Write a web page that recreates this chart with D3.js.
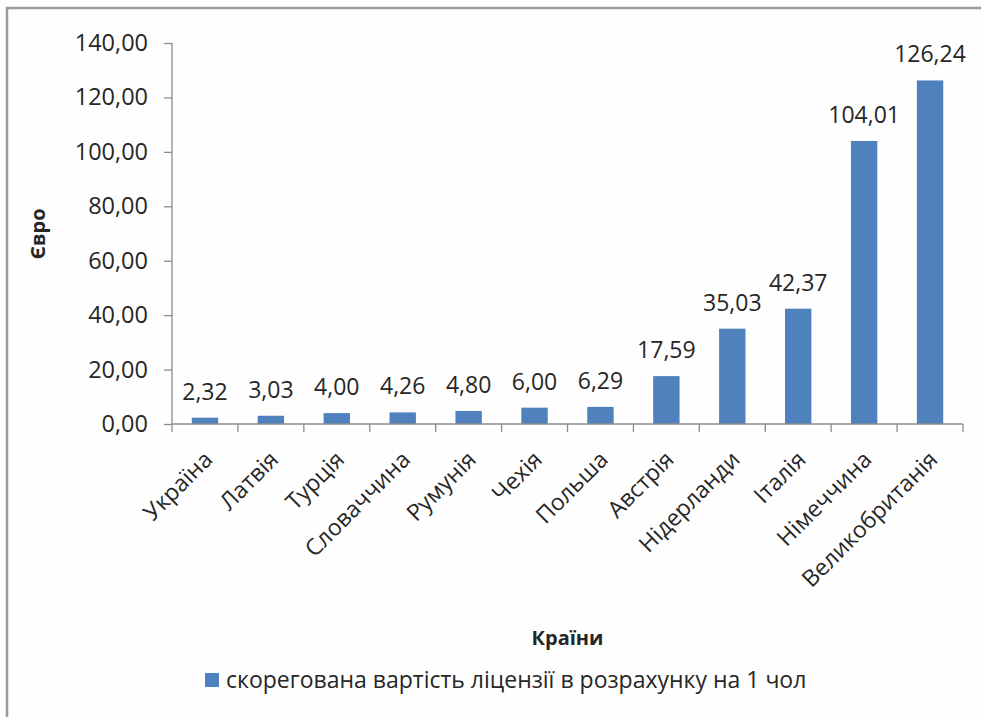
<!DOCTYPE html>
<html><head><meta charset="utf-8">
<script src="https://cdn.jsdelivr.net/npm/d3@7"></script>
<style>
html,body{margin:0;padding:0;background:#fff;}
svg text{font-family:"Open Sans","Noto Sans",sans-serif;fill:#262626;}
</style></head>
<body>
<svg id="c" width="981" height="717"></svg>
<script>
const categories = ["Україна","Латвія","Турція","Словаччина","Румунія","Чехія","Польша","Австрія","Нідерланди","Італія","Німеччина","Великобританія"];
const values = [2.32,3.03,4.00,4.26,4.80,6.00,6.29,17.59,35.03,42.37,104.01,126.24];
const yTicks = [0,20,40,60,80,100,120,140];
const seriesName = "скорегована вартість ліцензії в розрахунку на 1 чол";
const yTitle = "Євро";
const xTitle = "Країни";

const svg = d3.select("#c");
svg.append("rect").attr("width",981).attr("height",717).attr("fill","#fefefe");
// frame (left & top only visible)
svg.append("path").attr("d","M7,717 L7,8 L981,8").attr("fill","none").attr("stroke","#9a9a9a").attr("stroke-width",2.5);

const m = {left:172, right:963, top:43, bottom:424};
const x = d3.scaleBand().domain(categories).range([m.left,m.right]).paddingInner(0.6).paddingOuter(0.3);
const y = d3.scaleLinear().domain([0,140]).range([m.bottom,m.top]);
const fmt = v => d3.format(".2f")(v).replace(".",",");

// bars
svg.append("g").selectAll("rect").data(values).join("rect")
  .attr("x",(d,i)=>x(categories[i])).attr("width",x.bandwidth())
  .attr("y",d=>y(d)).attr("height",d=>y(0)-y(d)).attr("fill","#4f81bd");

// y axis
const ya = svg.append("g").attr("transform",`translate(${m.left},0)`)
  .call(d3.axisLeft(y).tickValues(yTicks).tickFormat(fmt).tickSize(8).tickPadding(16));
ya.selectAll("path,line").attr("stroke","#8c8c8c").attr("stroke-width",1.3);
ya.select(".domain").attr("d",`M0,${m.top}V${m.bottom}`);
ya.selectAll("text").attr("font-size",23.5).attr("font-family","'Open Sans',sans-serif").attr("fill","#262626");

// x axis
const edges = d3.range(categories.length+1).map(i=>m.left + i*(m.right-m.left)/categories.length);
const xa = svg.append("g");
xa.append("line").attr("x1",m.left).attr("x2",m.right).attr("y1",m.bottom).attr("y2",m.bottom).attr("stroke","#8c8c8c").attr("stroke-width",1.3);
xa.selectAll("line.t").data(edges).join("line").attr("class","t")
  .attr("x1",d=>d).attr("x2",d=>d).attr("y1",m.bottom).attr("y2",m.bottom+8).attr("stroke","#8c8c8c").attr("stroke-width",1.3);
xa.selectAll("text").data(categories).join("text")
  .attr("transform",d=>`translate(${x(d)+x.bandwidth()/2+9},${m.bottom+37}) rotate(-45)`)
  .attr("text-anchor","end").attr("font-size",23).text(d=>d);

// data labels
svg.append("g").selectAll("text").data(values).join("text")
  .attr("x",(d,i)=>x(categories[i])+x.bandwidth()/2).attr("y",d=>y(d)-18)
  .attr("text-anchor","middle").attr("font-size",23).text(d=>fmt(d));

// titles
svg.append("text").attr("transform","translate(45,234) rotate(-90)").attr("text-anchor","middle")
  .attr("font-size",20).attr("font-weight","bold").text(yTitle);
svg.append("text").attr("x",(m.left+m.right)/2).attr("y",645).attr("text-anchor","middle")
  .attr("font-size",20).attr("font-weight","bold").text(xTitle);

// legend
const lg = svg.append("g");
lg.append("rect").attr("x",205).attr("y",673).attr("width",14).attr("height",14).attr("fill","#4f81bd");
lg.append("text").attr("x",226).attr("y",688).attr("font-size",23).text(seriesName);
</script>
</body></html>
